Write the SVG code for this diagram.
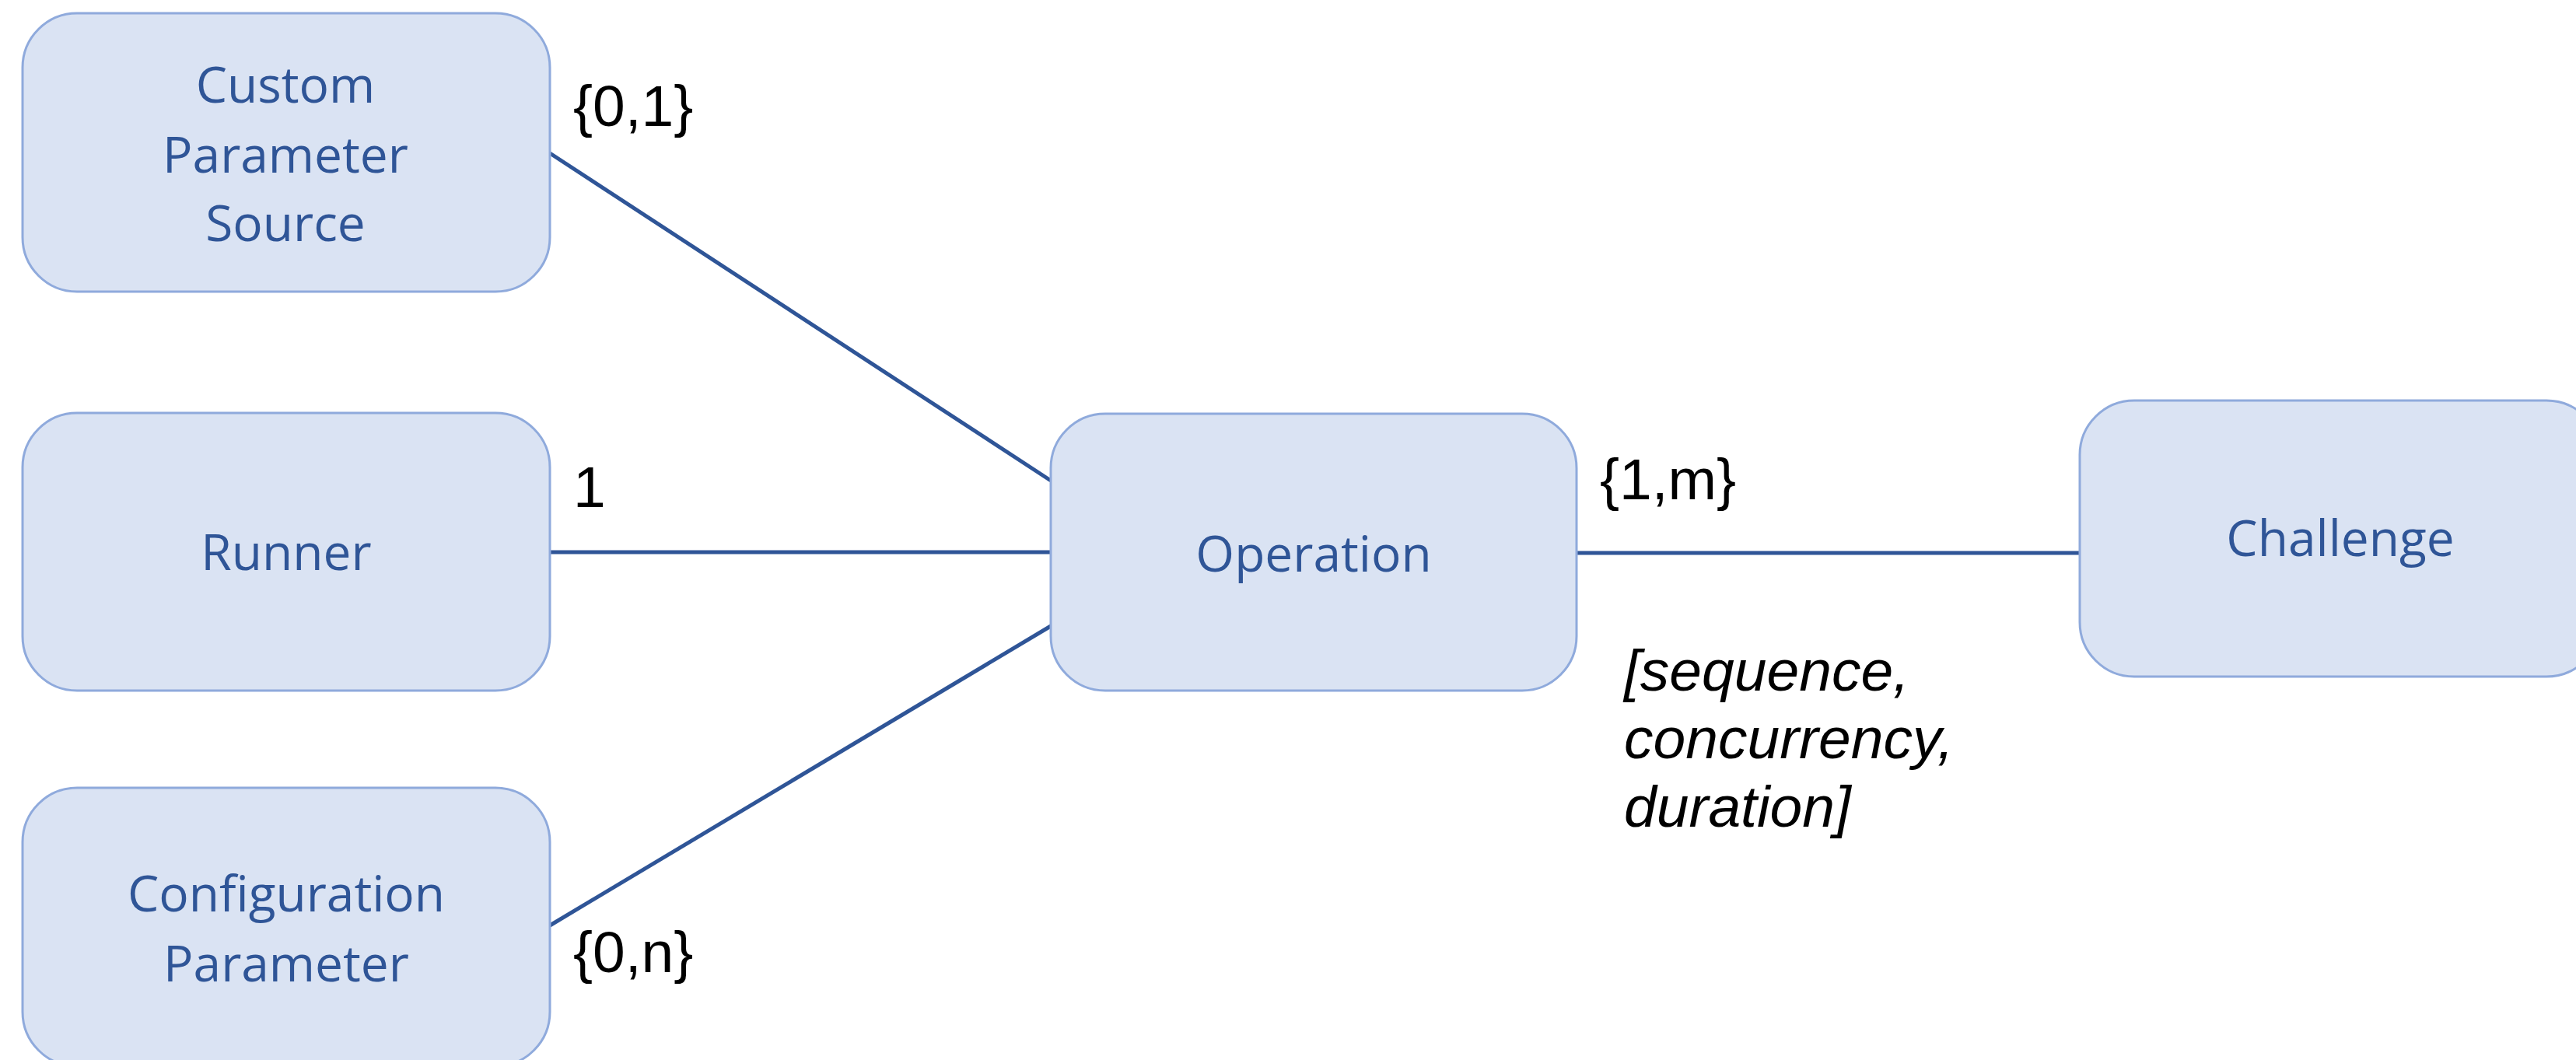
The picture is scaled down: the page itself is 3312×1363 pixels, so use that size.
<svg xmlns="http://www.w3.org/2000/svg" width="3312" height="1363" viewBox="0 0 3312 1363">
  <style>
    .box { fill: #DAE3F3; stroke: #8FAADC; stroke-width: 3; }
    .name { font-family: "Open Sans", "Noto Sans", sans-serif; font-size: 64px; fill: #2F5597; text-anchor: middle; }
    .mult { font-family: "Liberation Sans", Arial, sans-serif; font-size: 75px; fill: #000000; }
    .note { font-family: "Liberation Sans", Arial, sans-serif; font-size: 75px; font-style: italic; fill: #000000; }
    .link { stroke: #2F5597; stroke-width: 5; fill: none; }
  </style>
  <rect width="3312" height="1363" fill="#FFFFFF"/>

  <!-- associations -->
  <g id="connectors">
    <line class="link" x1="707" y1="197" x2="1351" y2="618"/>
    <line class="link" x1="707" y1="710" x2="1351" y2="710"/>
    <line class="link" x1="707" y1="1190" x2="1351" y2="805"/>
    <line class="link" x1="2027" y1="711" x2="2674" y2="711"/>
    <text class="mult" x="737" y="162">{0,1}</text>
    <text class="mult" x="737" y="652">1</text>
    <text class="mult" x="737" y="1250">{0,n}</text>
    <text class="mult" x="2057" y="642">{1,m}</text>
    <text class="note">
      <tspan x="2088" y="888">[sequence,</tspan>
      <tspan x="2088" y="975">concurrency,</tspan>
      <tspan x="2088" y="1063">duration]</tspan>
    </text>
  </g>

  <g id="custom-parameter-source">
    <rect class="box" x="29" y="17" width="678" height="358" rx="70" ry="70"/>
    <text class="name" x="367" y="132">Custom</text>
    <text class="name" x="367" y="222">Parameter</text>
    <text class="name" x="367" y="310">Source</text>
  </g>

  <g id="runner">
    <rect class="box" x="29" y="531" width="678" height="357" rx="70" ry="70"/>
    <text class="name" x="368" y="733">Runner</text>
  </g>

  <g id="configuration-parameter">
    <rect class="box" x="29" y="1013" width="678" height="358" rx="70" ry="70"/>
    <text class="name" x="368" y="1172">Configuration</text>
    <text class="name" x="368" y="1262">Parameter</text>
  </g>

  <g id="operation">
    <rect class="box" x="1351" y="532" width="676" height="356" rx="70" ry="70"/>
    <text class="name" x="1689" y="735">Operation</text>
  </g>

  <g id="challenge">
    <rect class="box" x="2674" y="515" width="670" height="355" rx="70" ry="70"/>
    <text class="name" x="3009" y="715">Challenge</text>
  </g>
</svg>
